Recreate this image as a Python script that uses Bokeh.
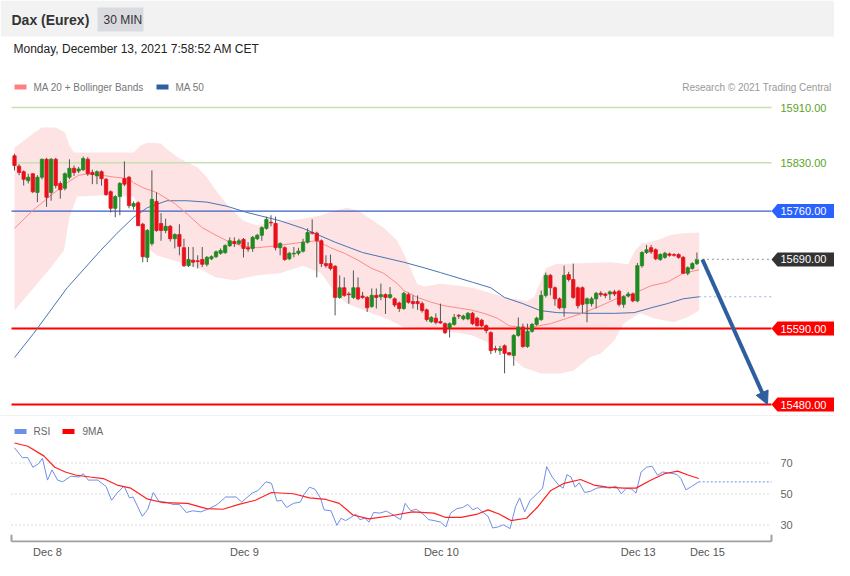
from bokeh.plotting import figure
from bokeh.layouts import column
from bokeh.models import Range1d, FixedTicker, Arrow, NormalHead
from bokeh.core.properties import value
from bokeh.embed import file_html
from bokeh.resources import INLINE

# ---------------- data ----------------
opens = [15840, 15825, 15817, 15804, 15814, 15787, 15809, 15835, 15787, 15835,
         15800, 15793, 15809, 15822, 15818, 15820, 15835, 15816, 15811, 15817,
         15806, 15788, 15764, 15781, 15807, 15809, 15767, 15772, 15741, 15693,
         15713, 15774, 15742, 15732, 15738, 15720, 15726, 15707, 15681, 15689,
         15688, 15690, 15683, 15691, 15694, 15699, 15700, 15710, 15716, 15713,
         15719, 15707, 15706, 15720, 15725, 15735, 15744, 15742, 15707, 15707,
         15691, 15698, 15699, 15702, 15715, 15729, 15728, 15717, 15684, 15684,
         15680, 15635, 15649, 15640, 15635, 15649, 15637, 15635, 15622, 15638,
         15636, 15639, 15635, 15633, 15627, 15619, 15639, 15629, 15629, 15626,
         15617, 15600, 15605, 15600, 15597, 15591, 15596, 15609, 15604, 15604,
         15612, 15605, 15602, 15594, 15584, 15561, 15558, 15565, 15555, 15551,
         15580, 15592, 15564, 15586, 15596, 15603, 15638, 15667, 15649, 15633,
         15620, 15668, 15661, 15649, 15649, 15626, 15626, 15633, 15641, 15640,
         15640, 15643, 15644, 15625, 15637, 15640, 15630, 15681, 15700, 15707,
         15704, 15690, 15693, 15698, 15697, 15697, 15693, 15670, 15677, 15684]
highs = [15843, 15828, 15819, 15814, 15815, 15812, 15836, 15837, 15837, 15837,
         15803, 15816, 15835, 15826, 15824, 15839, 15838, 15820, 15819, 15819,
         15808, 15790, 15783, 15802, 15832, 15811, 15774, 15774, 15743, 15734,
         15819, 15787, 15757, 15749, 15740, 15728, 15741, 15720, 15708, 15708,
         15696, 15708, 15695, 15696, 15703, 15706, 15712, 15722, 15722, 15720,
         15721, 15715, 15724, 15727, 15738, 15752, 15754, 15752, 15715, 15709,
         15701, 15708, 15707, 15720, 15735, 15748, 15730, 15719, 15696, 15697,
         15682, 15667, 15664, 15643, 15674, 15664, 15643, 15637, 15648, 15648,
         15655, 15641, 15650, 15635, 15629, 15643, 15642, 15638, 15638, 15629,
         15619, 15608, 15612, 15626, 15599, 15599, 15611, 15611, 15610, 15614,
         15614, 15607, 15604, 15596, 15586, 15565, 15565, 15567, 15556, 15582,
         15606, 15597, 15597, 15598, 15607, 15645, 15671, 15669, 15651, 15635,
         15681, 15672, 15684, 15651, 15651, 15635, 15636, 15643, 15644, 15642,
         15645, 15646, 15646, 15638, 15643, 15642, 15685, 15702, 15711, 15711,
         15706, 15699, 15701, 15700, 15699, 15699, 15695, 15680, 15686, 15700]
lows = [15819, 15812, 15797, 15800, 15786, 15773, 15806, 15766, 15775, 15793,
        15778, 15790, 15806, 15811, 15815, 15818, 15811, 15799, 15799, 15797,
        15782, 15758, 15751, 15754, 15796, 15764, 15762, 15738, 15686, 15686,
        15710, 15730, 15717, 15728, 15716, 15706, 15696, 15679, 15679, 15679,
        15677, 15679, 15680, 15689, 15692, 15697, 15698, 15708, 15708, 15711,
        15693, 15701, 15701, 15718, 15717, 15733, 15738, 15703, 15696, 15688,
        15689, 15693, 15696, 15700, 15713, 15726, 15664, 15679, 15678, 15674,
        15609, 15633, 15636, 15626, 15633, 15631, 15633, 15614, 15620, 15619,
        15631, 15611, 15633, 15621, 15614, 15617, 15626, 15619, 15617, 15613,
        15600, 15598, 15596, 15597, 15582, 15577, 15594, 15604, 15602, 15602,
        15595, 15593, 15592, 15583, 15553, 15555, 15552, 15525, 15551, 15536,
        15578, 15562, 15562, 15584, 15594, 15601, 15635, 15638, 15623, 15618,
        15607, 15658, 15633, 15619, 15612, 15599, 15622, 15619, 15636, 15634,
        15631, 15637, 15622, 15620, 15635, 15628, 15628, 15678, 15698, 15698,
        15689, 15688, 15691, 15694, 15694, 15691, 15669, 15667, 15675, 15682]
closes = [15826, 15816, 15806, 15809, 15788, 15809, 15835, 15780, 15835, 15797,
          15791, 15814, 15822, 15816, 15821, 15836, 15814, 15813, 15817, 15807,
          15784, 15764, 15781, 15800, 15799, 15768, 15771, 15739, 15694, 15732,
          15777, 15732, 15732, 15738, 15720, 15726, 15709, 15681, 15690, 15686,
          15687, 15683, 15693, 15694, 15701, 15703, 15710, 15717, 15713, 15717,
          15706, 15705, 15722, 15725, 15736, 15748, 15743, 15707, 15713, 15690,
          15699, 15699, 15702, 15715, 15729, 15728, 15717, 15684, 15681, 15677,
          15635, 15649, 15638, 15639, 15649, 15633, 15635, 15620, 15638, 15635,
          15639, 15635, 15639, 15624, 15619, 15641, 15628, 15626, 15626, 15616,
          15603, 15606, 15599, 15598, 15584, 15597, 15606, 15608, 15608, 15612,
          15597, 15594, 15594, 15587, 15558, 15559, 15561, 15554, 15552, 15580,
          15592, 15564, 15586, 15596, 15605, 15638, 15667, 15649, 15633, 15620,
          15667, 15661, 15635, 15623, 15625, 15633, 15633, 15641, 15639, 15638,
          15643, 15640, 15625, 15636, 15640, 15630, 15681, 15700, 15704, 15701,
          15691, 15697, 15699, 15696, 15696, 15693, 15670, 15678, 15684, 15690]

bbu_idx = [0, 2, 4, 6, 9, 11, 12, 13, 20, 26, 27.5, 29, 32, 33, 36, 40, 42, 44, 47, 50,
           53, 56, 63, 67, 70, 72.6, 75, 77.7, 80.6, 83.6, 85.7, 87.9, 89.4, 93, 97, 100,
           104, 108, 112, 113.5, 116, 118, 122, 130, 134, 135.5, 137, 140, 143, 146, 149.5]
bb_upper = [15852, 15862, 15872, 15881, 15881, 15874, 15855, 15845, 15845, 15845, 15855,
            15859, 15858, 15851, 15836, 15823, 15809, 15790, 15765, 15746, 15739, 15744,
            15749, 15754, 15761, 15765, 15761, 15749, 15736, 15717, 15689, 15655, 15651,
            15655, 15652, 15649, 15641, 15634, 15630, 15636, 15677, 15683, 15684, 15686,
            15683, 15703, 15713, 15717, 15725, 15728, 15729]
bbl_idx = [0, 4.2, 7.9, 10.8, 12, 13.7, 20, 26, 27, 28, 29, 31, 36, 40, 44, 48, 53, 58, 63,
           67, 70, 72.6, 77.7, 82, 85, 88, 92, 96.7, 100, 104, 107, 111, 115, 119, 122,
           125.6, 128, 131, 133, 135, 136.7, 139.6, 143.9, 146.8, 149.5]
bb_lower = [15616, 15649, 15678, 15703, 15751, 15781, 15783, 15781, 15768, 15732, 15707,
            15696, 15686, 15678, 15664, 15660, 15667, 15670, 15681, 15670, 15641, 15626,
            15613, 15602, 15592, 15590, 15587, 15584, 15580, 15568, 15558, 15534, 15525,
            15525, 15529, 15548, 15554, 15573, 15597, 15606, 15612, 15605, 15599, 15606, 15616]
ma20_idx = [0, 4, 8, 11.5, 14, 16, 19, 22, 25, 26, 28, 31, 35, 38, 41, 44, 47, 50, 53, 56,
            63, 66, 69, 72, 75, 77.7, 80.6, 83.6, 85, 88, 91, 93.8, 96.7, 99.6, 102.5, 105.4,
            108, 110, 113, 117, 120.7, 124.4, 128, 131.7, 135.3, 139, 142.5, 146, 149.5]
ma20 = [15735, 15761, 15783, 15801, 15812, 15814, 15812, 15809, 15807, 15801, 15794, 15787,
        15771, 15754, 15736, 15725, 15715, 15709, 15707, 15709, 15715, 15717, 15707, 15699,
        15689, 15678, 15670, 15655, 15645, 15635, 15628, 15623, 15620, 15617, 15612, 15605,
        15594, 15592, 15592, 15597, 15605, 15613, 15623, 15634, 15641, 15652, 15657, 15670, 15675]
ma50_idx = [0, 4.2, 11.5, 18.8, 22.4, 26, 29, 33.3, 37.7, 42, 46.4, 50.8, 55, 58, 63, 70, 76,
            85, 89.4, 93, 95, 100, 104, 107, 111, 114.8, 118.5, 125, 131, 135.3, 139, 142.5,
            146, 149.5]
ma50 = [15548, 15583, 15649, 15703, 15728, 15751, 15765, 15775, 15775, 15773, 15767, 15758,
        15751, 15746, 15735, 15715, 15700, 15686, 15678, 15671, 15667, 15657, 15649, 15635,
        15626, 15616, 15613, 15612, 15612, 15613, 15620, 15626, 15633, 15636]

rsi_idx = [0, 1.7, 2.9, 4.0, 5.2, 6.1, 7.2, 8.2, 9.4, 10.5, 12.3, 14.1, 15.0, 16.1, 18.2, 20.0,
           21.2, 22.4, 23.9, 25.1, 25.9, 27.9, 29.1, 30.3, 31.5, 33.0, 34.6, 36.0, 37.5, 38.9,
           40.7, 42.5, 44.3, 46.1, 48.4, 49.6, 51.9, 53.2, 54.9, 56.1, 57.3, 58.3, 59.4, 60.9,
           62.4, 63.2, 64.4, 65.6, 66.8, 67.6, 69.1, 70.4, 71.3, 72.3, 73.5, 74.5, 75.4, 76.5,
           77.4, 78.4, 79.8, 81.2, 82.7, 84.3, 85.3, 86.5, 87.7, 89.2, 90.4, 91.6, 93.0, 94.2,
           95.2, 96.6, 97.8, 99.0, 100.1, 101.1, 102.3, 103.4, 104.4, 105.6, 106.8, 108.2,
           109.4, 110.3, 111.4, 112.6, 114.1, 115.3, 116.2, 117.4, 118.8, 119.8, 120.6, 121.5,
           122.4, 123.3, 124.5, 125.7, 127.1, 128.5, 130.1, 131.3, 132.5, 133.6, 134.8, 135.7,
           136.8, 138.0, 139.2, 140.4, 141.5, 143.1, 144.6, 145.5, 146.6, 147.8, 149.4]
rsi = [79.8, 73.5, 73.5, 67.3, 69.4, 73.1, 59.0, 65.6, 59.0, 57.9, 61.5, 61.0, 63.1, 59.0,
       59.0, 54.8, 46.0, 50.6, 55.2, 47.5, 48.1, 35.6, 40.2, 51.0, 45.4, 44.8, 43.3, 43.3,
       38.1, 39.2, 38.5, 40.6, 43.3, 48.1, 48.1, 44.8, 50.6, 52.3, 57.9, 56.9, 45.4, 46.0,
       41.3, 44.0, 44.8, 49.6, 54.4, 53.1, 47.5, 39.8, 39.2, 29.8, 34.4, 32.9, 35.0, 37.1,
       33.5, 34.4, 31.9, 38.1, 37.7, 39.0, 36.5, 33.5, 44.0, 39.2, 40.2, 37.1, 33.5, 32.9,
       31.9, 28.8, 37.7, 40.6, 41.3, 43.3, 39.8, 41.3, 38.1, 35.6, 28.1, 28.8, 30.2, 27.7,
       41.9, 47.5, 38.5, 46.0, 50.2, 53.8, 67.7, 61.0, 55.8, 53.8, 62.5, 61.0, 54.4, 57.3,
       51.0, 51.7, 53.8, 54.4, 53.8, 55.2, 50.2, 53.8, 53.1, 50.6, 64.2, 67.3, 67.9, 62.1,
       64.2, 63.5, 62.7, 60.0, 52.7, 54.8, 57.9]
ma9_idx = [0, 2.9, 5.2, 6.4, 8.8, 11.1, 13.5, 16.5, 19.4, 22.4, 25.4, 28.9, 32.5, 37.8, 41.9,
           45.5, 49.0, 52.6, 56.1, 60.9, 64.4, 68.0, 70.9, 73.9, 77.4, 82.2, 86.9, 91.6, 94.0,
           97.5, 101.1, 103.4, 105.8, 108.4, 111.8, 114.1, 117.1, 120.0, 123.6, 126.5, 129.4,
           133.0, 135.7, 139.0, 141.9, 144.8, 147.2, 149.4]
rsi_ma9 = [82.9, 80.8, 76.7, 74.6, 67.3, 64.2, 62.1, 61.0, 60.0, 55.8, 53.8, 46.9, 44.4, 44.0,
           40.6, 40.2, 43.3, 46.0, 51.0, 50.2, 47.5, 46.5, 44.0, 36.5, 34.0, 36.0, 38.5, 37.7,
           35.0, 35.0, 37.1, 39.8, 37.1, 32.9, 34.4, 41.3, 52.3, 56.9, 59.4, 55.8, 54.4, 53.8,
           53.8, 59.0, 63.1, 64.8, 62.1, 60.0]

resistance_levels = [15910, 15830]
pivot_level = 15760
support_levels = [15590, 15480]
target_level = 15480
rsi_grid_levels = [30, 50, 70]
rsi_grid_labels = ["30", "50", "70"]
day_tick_idx = [7.2, 50.2, 93.2, 136.2, 151.3]
day_labels = ["Dec 8", "Dec 9", "Dec 10", "Dec 13", "Dec 15"]

# ---------------- layout helpers (pixel geometry) ----------------
FONT = "Liberation Sans"
W = 834
TOP_H, RSI_H = 416, 144
RSI_TOP_PX, RSI_FRAME_BOTTOM_PX = 416, 546
BAR0_PX, BAR_PX = 14.0, 4.58          # x of bar 0, pixels per bar
PRICE_PX_REF, PRICE_REF, PX_PER_PT = 107.0, 15910.0, 0.6907
RSI_PX_REF, RSI_REF, PX_PER_RSI = 464.0, 70.0, 1.6


def px_x(px):
    return (px - BAR0_PX) / BAR_PX


def py_price(py):
    return PRICE_REF - (py - PRICE_PX_REF) / PX_PER_PT


def py_rsi(py):
    return RSI_REF - (py - RSI_PX_REF) / PX_PER_RSI


def txt(fig, x, y, s, size, color, bold=False, align="left"):
    fig.text(x=[x], y=[y], text=[s], text_font=value(FONT), text_font_size=size,
             text_color=color, text_align=align, text_baseline="middle",
             text_font_style="bold" if bold else "normal")


n = len(opens)
idx = list(range(n))
last_close = closes[-1]
GREEN_C, RED_C = "#1f8a1f", "#e8101a"
LX0, LX1 = px_x(11), px_x(771)

# ---------------- price pane ----------------
p = figure(width=W, height=TOP_H, x_range=Range1d(px_x(0), px_x(W)),
           y_range=Range1d(py_price(TOP_H), py_price(0)),
           output_backend="svg", toolbar_location=None, title=None,
           x_axis_location=None, y_axis_location=None,
           min_border_left=0, min_border_right=0, min_border_top=0, min_border_bottom=0)
p.outline_line_color = None
p.grid.visible = False
p.background_fill_color = "white"
p.border_fill_color = "white"

# header
p.quad(left=[px_x(0)], right=[px_x(W)], top=[py_price(0)], bottom=[py_price(36)],
       fill_color="#f2f2f2", line_color=None)
p.quad(left=[px_x(97)], right=[px_x(143)], top=[py_price(7)], bottom=[py_price(31)],
       fill_color="#d9dbe0", line_color=None)
txt(p, px_x(11), py_price(19), "Dax (Eurex)", "14px", "#333333", bold=True)
txt(p, px_x(103), py_price(19), "30 MIN", "12px", "#333333")
txt(p, px_x(13), py_price(48), "Monday, December 13, 2021 7:58:52 AM CET", "12px", "#222222")

# legend
p.quad(left=[px_x(14)], right=[px_x(26)], top=[py_price(84)], bottom=[py_price(89)],
       fill_color="#ff8080", line_color=None)
txt(p, px_x(33), py_price(86.5), "MA 20 + Bollinger Bands", "10px", "#777777")
p.quad(left=[px_x(156)], right=[px_x(168)], top=[py_price(84)], bottom=[py_price(89)],
       fill_color="#2f5f9f", line_color=None)
txt(p, px_x(175), py_price(86.5), "MA 50", "10px", "#777777")
txt(p, px_x(831), py_price(86.5), "Research \u00a9 2021 Trading Central", "10px", "#999999",
    align="right")

# bollinger band
band_x = list(bbu_idx) + list(reversed(bbl_idx))
band_y = list(bb_upper) + list(reversed(bb_lower))
p.patch(band_x, band_y, fill_color="#fde3e3", fill_alpha=1.0, line_color=None)

# level lines
for lv in resistance_levels:
    p.segment(x0=[LX0], x1=[LX1], y0=[lv], y1=[lv], line_color="#c6e2b0", line_width=1.5)
p.segment(x0=[LX0], x1=[LX1], y0=[pivot_level], y1=[pivot_level],
          line_color="#3a5fc4", line_width=1.2)
for lv in support_levels:
    p.segment(x0=[LX0], x1=[LX1], y0=[lv], y1=[lv], line_color="#ff0000", line_width=2)

# moving averages
p.line(ma50_idx, ma50, line_color="#4a74b4", line_width=1)
p.line(ma20_idx, ma20, line_color="#ff8a8a", line_width=1)

# candles
p.segment(x0=idx, x1=idx, y0=lows, y1=highs, line_color="#555555", line_width=1)
up = [i for i in idx if closes[i] >= opens[i]]
dn = [i for i in idx if closes[i] < opens[i]]
p.vbar(x=up, width=0.72, top=[closes[i] for i in up], bottom=[opens[i] for i in up],
       fill_color=GREEN_C, line_color=GREEN_C, line_width=0.8)
p.vbar(x=dn, width=0.72, top=[opens[i] for i in dn], bottom=[closes[i] for i in dn],
       fill_color=RED_C, line_color=RED_C, line_width=0.8)

# dotted continuations
p.segment(x0=[n - 1], x1=[LX1], y0=[last_close], y1=[last_close],
          line_color="#a8a8a8", line_width=1.2, line_dash="2 3")
p.segment(x0=[ma50_idx[-1]], x1=[LX1], y0=[ma50[-1]], y1=[ma50[-1]],
          line_color="#9fb4dc", line_width=1.2, line_dash="2 3")

# arrow to target
p.add_layout(Arrow(end=NormalHead(size=13, fill_color="#2e5e9e", line_color="#2e5e9e"),
                   x_start=n - 1 + 1.2, y_start=last_close, x_end=px_x(767), y_end=target_level,
                   line_color="#2e5e9e", line_width=4))

# right-hand price tags
half_h = 7.0 / PX_PER_PT
tip, body_l, body_r = px_x(771), px_x(777), px_x(860)
tag_levels = [pivot_level, last_close] + support_levels
tag_colors = ["#2962ff", "#333333", "#ff0000", "#ff0000"]
p.patches(xs=[[tip, body_l, body_r, body_r, body_l] for _ in tag_levels],
          ys=[[lv, lv + half_h, lv + half_h, lv - half_h, lv - half_h] for lv in tag_levels],
          fill_color=tag_colors, line_color=None)
for lv in tag_levels:
    txt(p, px_x(780), lv, f"{lv:.2f}", "11px", "#ffffff")
for lv in resistance_levels:
    txt(p, px_x(780), lv, f"{lv:.2f}", "11px", "#5aa424")

# separator
p.segment(x0=[px_x(0)], x1=[px_x(W)], y0=[py_price(415.5)], y1=[py_price(415.5)],
          line_color="#e3e3e3", line_width=1)

# ---------------- RSI pane ----------------
r = figure(width=W, height=RSI_H, x_range=Range1d(px_x(0), px_x(W)),
           y_range=Range1d(py_rsi(RSI_FRAME_BOTTOM_PX), py_rsi(RSI_TOP_PX)),
           output_backend="svg", toolbar_location=None, title=None,
           x_axis_location="below", y_axis_location=None,
           min_border_left=0, min_border_right=0, min_border_top=0,
           min_border_bottom=RSI_TOP_PX + RSI_H - RSI_FRAME_BOTTOM_PX)
r.outline_line_color = None
r.background_fill_color = "white"
r.border_fill_color = "white"
r.grid.visible = False

xa = r.xaxis[0]
xa.ticker = FixedTicker(ticks=day_tick_idx, minor_ticks=[])
xa.major_label_overrides = {t: s for t, s in zip(day_tick_idx, day_labels)}
xa.axis_line_color = None
xa.major_tick_line_color = None
xa.minor_tick_line_color = None
xa.major_tick_in = 0
xa.major_tick_out = 0
xa.major_label_standoff = 3
xa.major_label_text_font = FONT
xa.major_label_text_font_size = "11px"
xa.major_label_text_color = "#555555"

# horizontal dotted guides + labels
for lv, lab in zip(rsi_grid_levels, rsi_grid_labels):
    r.segment(x0=[LX0], x1=[LX1], y0=[lv], y1=[lv], line_color="#b8b8b8",
              line_width=1, line_dash="1 3")
    txt(r, px_x(780), lv, lab, "11px", "#666666")

# bottom bracket
yb = py_rsi(545)
r.segment(x0=[LX0, LX0, LX1], x1=[LX1, LX0, LX1], y0=[yb, yb, yb],
          y1=[yb, py_rsi(538), py_rsi(538)], line_color="#a0a0a0", line_width=2)

r.line(rsi_idx, rsi, line_color="#6f8fe6", line_width=1)
r.line(ma9_idx, rsi_ma9, line_color="#ff2020", line_width=1.2)
r.segment(x0=[rsi_idx[-1]], x1=[LX1], y0=[rsi[-1]], y1=[rsi[-1]],
          line_color="#8fa6ea", line_width=1.2, line_dash="2 2")

r.quad(left=[px_x(14)], right=[px_x(26)], top=[py_rsi(429)], bottom=[py_rsi(434)],
       fill_color="#6f8fe6", line_color=None)
txt(r, px_x(33), py_rsi(431.5), "RSI", "10px", "#666666")
r.quad(left=[px_x(62)], right=[px_x(74)], top=[py_rsi(429)], bottom=[py_rsi(434)],
       fill_color="#ff0000", line_color=None)
txt(r, px_x(82), py_rsi(431.5), "9MA", "10px", "#666666")

layout = column(p, r, spacing=0)
open("out.html", "w").write(file_html(layout, INLINE))
